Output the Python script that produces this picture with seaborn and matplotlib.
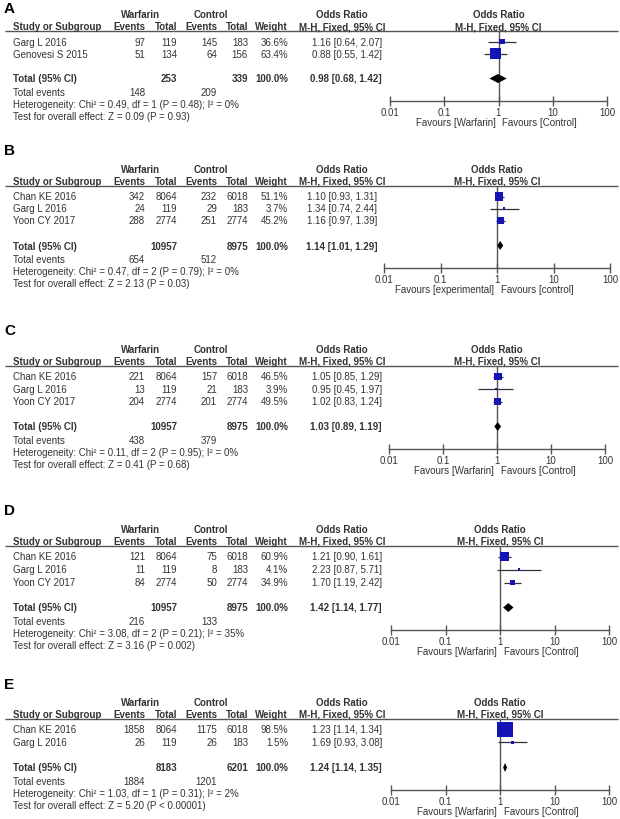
import matplotlib
matplotlib.use("Agg")
import matplotlib.pyplot as plt
import seaborn as sns
import numpy as np
import pandas as pd

# ---------------- data ----------------
studies_A = ["Garg L 2016", "Genovesi S 2015"]
w_events_A = [97, 51]
w_total_A = [119, 134]
c_events_A = [145, 64]
c_total_A = [183, 156]
weight_A = [36.6, 63.4]
or_A = [1.16, 0.88]
lo_A = [0.64, 0.55]
hi_A = [2.07, 1.42]
pooled_A = [0.98, 0.68, 1.42]
totals_A = [253, 339]
tot_events_A = [148, 209]
het_A = "Heterogeneity: Chi² = 0.49, df = 1 (P = 0.48); I² = 0%"
test_A = "Test for overall effect: Z = 0.09 (P = 0.93)"
fav_A = ["Favours [Warfarin]", "Favours [Control]"]

studies_B = ["Chan KE 2016", "Garg L 2016", "Yoon CY 2017"]
w_events_B = [342, 24, 288]
w_total_B = [8064, 119, 2774]
c_events_B = [232, 29, 251]
c_total_B = [6018, 183, 2774]
weight_B = [51.1, 3.7, 45.2]
or_B = [1.10, 1.34, 1.16]
lo_B = [0.93, 0.74, 0.97]
hi_B = [1.31, 2.44, 1.39]
pooled_B = [1.14, 1.01, 1.29]
totals_B = [10957, 8975]
tot_events_B = [654, 512]
het_B = "Heterogeneity: Chi² = 0.47, df = 2 (P = 0.79); I² = 0%"
test_B = "Test for overall effect: Z = 2.13 (P = 0.03)"
fav_B = ["Favours [experimental]", "Favours [control]"]

studies_C = ["Chan KE 2016", "Garg L 2016", "Yoon CY 2017"]
w_events_C = [221, 13, 204]
w_total_C = [8064, 119, 2774]
c_events_C = [157, 21, 201]
c_total_C = [6018, 183, 2774]
weight_C = [46.5, 3.9, 49.5]
or_C = [1.05, 0.95, 1.02]
lo_C = [0.85, 0.45, 0.83]
hi_C = [1.29, 1.97, 1.24]
pooled_C = [1.03, 0.89, 1.19]
totals_C = [10957, 8975]
tot_events_C = [438, 379]
het_C = "Heterogeneity: Chi² = 0.11, df = 2 (P = 0.95); I² = 0%"
test_C = "Test for overall effect: Z = 0.41 (P = 0.68)"
fav_C = ["Favours [Warfarin]", "Favours [Control]"]

studies_D = ["Chan KE 2016", "Garg L 2016", "Yoon CY 2017"]
w_events_D = [121, 11, 84]
w_total_D = [8064, 119, 2774]
c_events_D = [75, 8, 50]
c_total_D = [6018, 183, 2774]
weight_D = [60.9, 4.1, 34.9]
or_D = [1.21, 2.23, 1.70]
lo_D = [0.90, 0.87, 1.19]
hi_D = [1.61, 5.71, 2.42]
pooled_D = [1.42, 1.14, 1.77]
totals_D = [10957, 8975]
tot_events_D = [216, 133]
het_D = "Heterogeneity: Chi² = 3.08, df = 2 (P = 0.21); I² = 35%"
test_D = "Test for overall effect: Z = 3.16 (P = 0.002)"
fav_D = ["Favours [Warfarin]", "Favours [Control]"]

studies_E = ["Chan KE 2016", "Garg L 2016"]
w_events_E = [1858, 26]
w_total_E = [8064, 119]
c_events_E = [1175, 26]
c_total_E = [6018, 183]
weight_E = [98.5, 1.5]
or_E = [1.23, 1.69]
lo_E = [1.14, 0.93]
hi_E = [1.34, 3.08]
pooled_E = [1.24, 1.14, 1.35]
totals_E = [8183, 6201]
tot_events_E = [1884, 1201]
het_E = "Heterogeneity: Chi² = 1.03, df = 1 (P = 0.31); I² = 2%"
test_E = "Test for overall effect: Z = 5.20 (P < 0.00001)"
fav_E = ["Favours [Warfarin]", "Favours [Control]"]

axis_ticks = [0.01, 0.1, 1, 10, 100]
axis_labels = ["0.01", "0.1", "1", "10", "100"]

# ---------------- style ----------------
sns.set_theme(style="white")
plt.rcParams['font.family'] = ['Liberation Sans', 'DejaVu Sans']

W, H = 620, 820
FS = 7.0
TXT = "#333333"
LINE = "#555555"
BLUE = "#1414b4"

fig = plt.figure(figsize=(6.2, 8.2), dpi=100)
ax_t = fig.add_axes([0, 0, 1, 1])
ax_t.set_xlim(0, W)
ax_t.set_ylim(H, 0)
ax_t.axis("off")


def t(x, y, s, ha="left", bold=False, va="center", size=FS, color=TXT):
    ax_t.text(x, y, s, ha=ha, va=va, fontsize=size,
              fontweight="bold" if bold else "normal", color=color)


def pct(v):
    return f"{v:.1f}%"


def ci(o, l, h):
    return f"{o:.2f} [{l:.2f}, {h:.2f}]"


panels = [
    dict(key="A", studies=studies_A, we=w_events_A, wt=w_total_A, ce=c_events_A, ct=c_total_A,
         wgt=weight_A, orv=or_A, lo=lo_A, hi=hi_A, pooled=pooled_A, totals=totals_A,
         tev=tot_events_A, het=het_A, test=test_A, fav=fav_A,
         rule=32, label_y=9, x0=390, x1=607, step=12.0, orx=382),
    dict(key="B", studies=studies_B, we=w_events_B, wt=w_total_B, ce=c_events_B, ct=c_total_B,
         wgt=weight_B, orv=or_B, lo=lo_B, hi=hi_B, pooled=pooled_B, totals=totals_B,
         tev=tot_events_B, het=het_B, test=test_B, fav=fav_B,
         rule=187, label_y=151, x0=384, x1=610, step=12.0, orx=377),
    dict(key="C", studies=studies_C, we=w_events_C, wt=w_total_C, ce=c_events_C, ct=c_total_C,
         wgt=weight_C, orv=or_C, lo=lo_C, hi=hi_C, pooled=pooled_C, totals=totals_C,
         tev=tot_events_C, het=het_C, test=test_C, fav=fav_C,
         rule=367, label_y=331, x0=389, x1=605, step=12.5, orx=382),
    dict(key="D", studies=studies_D, we=w_events_D, wt=w_total_D, ce=c_events_D, ct=c_total_D,
         wgt=weight_D, orv=or_D, lo=lo_D, hi=hi_D, pooled=pooled_D, totals=totals_D,
         tev=tot_events_D, het=het_D, test=test_D, fav=fav_D,
         rule=547, label_y=511, x0=391, x1=609, step=13.0, orx=382),
    dict(key="E", studies=studies_E, we=w_events_E, wt=w_total_E, ce=c_events_E, ct=c_total_E,
         wgt=weight_E, orv=or_E, lo=lo_E, hi=hi_E, pooled=pooled_E, totals=totals_E,
         tev=tot_events_E, het=het_E, test=test_E, fav=fav_E,
         rule=720, label_y=685, x0=391, x1=609, step=13.0, orx=382),
]

X_STUDY = 13
X_WE, X_WT, X_CE, X_CT, X_WGT = 145, 177, 217, 248, 288

for p in panels:
    r = p["rule"]
    n = len(p["studies"])
    row_y = [r + 10.5 + i * p["step"] for i in range(n)]
    total_y = row_y[-1] + 25
    ev_y = total_y + 13.5
    het_y = ev_y + 12
    test_y = het_y + 12
    axis_y = total_y + 22
    xmid = (p["x0"] + p["x1"]) / 2
    or_center = 342

    # panel label
    t(4, p["label_y"], p["key"], bold=True, size=11, color="black")

    # headers
    h1 = r - 17
    hb = r - 2
    t(141, h1, "Warfarin", ha="center", bold=True)
    t(211, h1, "Control", ha="center", bold=True)
    t(or_center, h1, "Odds Ratio", ha="center", bold=True)
    t(xmid, h1, "Odds Ratio", ha="center", bold=True)
    for x, s, ha in [(X_STUDY, "Study or Subgroup", "left"), (X_WE, "Events", "right"),
                     (X_WT, "Total", "right"), (X_CE, "Events", "right"), (X_CT, "Total", "right"),
                     (X_WGT, "Weight", "right"), (or_center, "M-H, Fixed, 95% CI", "center"),
                     (xmid, "M-H, Fixed, 95% CI", "center")]:
        t(x, hb, s, ha=ha, bold=True, va="baseline")
    ax_t.plot([5, 618], [r, r], color=LINE, lw=1.0, solid_capstyle="butt")

    # study rows
    for i in range(n):
        y = row_y[i]
        t(X_STUDY, y, p["studies"][i])
        t(X_WE, y, str(p["we"][i]), ha="right")
        t(X_WT, y, str(p["wt"][i]), ha="right")
        t(X_CE, y, str(p["ce"][i]), ha="right")
        t(X_CT, y, str(p["ct"][i]), ha="right")
        t(X_WGT, y, pct(p["wgt"][i]), ha="right")
        t(p["orx"], y, ci(p["orv"][i], p["lo"][i], p["hi"][i]), ha="right")

    # total rows
    po, pl, ph = p["pooled"]
    t(X_STUDY, total_y, "Total (95% CI)", bold=True)
    t(X_WT, total_y, str(p["totals"][0]), ha="right", bold=True)
    t(X_CT, total_y, str(p["totals"][1]), ha="right", bold=True)
    t(X_WGT, total_y, "100.0%", ha="right", bold=True)
    t(p["orx"], total_y, ci(po, pl, ph), ha="right", bold=True)
    t(X_STUDY, ev_y, "Total events")
    t(X_WE, ev_y, str(p["tev"][0]), ha="right")
    t(X_CE, ev_y, str(p["tev"][1]), ha="right")
    t(X_STUDY, het_y, p["het"])
    t(X_STUDY, test_y, p["test"])

    # forest axes
    ax = fig.add_axes([p["x0"] / W, 1 - axis_y / H, (p["x1"] - p["x0"]) / W, (axis_y - r) / H])
    ax.set_xscale("log")
    ax.set_xlim(0.01, 100)
    ax.set_ylim(axis_y, r)
    ax.patch.set_alpha(0)
    for sp in ["top", "left", "right"]:
        ax.spines[sp].set_visible(False)
    ax.spines["bottom"].set_color(LINE)
    ax.spines["bottom"].set_linewidth(1.0)
    ax.axvline(1, color=LINE, lw=1.0, zorder=1)

    df = pd.DataFrame({"or": p["orv"], "lo": p["lo"], "hi": p["hi"], "y": row_y, "w": p["wgt"]})
    ax.hlines(df["y"], df["lo"], df["hi"], color="#333333", lw=0.9, zorder=2)
    side_px = np.maximum(2.4, 0.16 * df["w"].to_numpy())
    sizes = (side_px * 0.72) ** 2
    sns.scatterplot(data=df, x="or", y="y", marker="s", s=sizes, color=BLUE,
                    edgecolor=BLUE, linewidth=0, ax=ax, legend=False, zorder=3, clip_on=False)
    ax.fill([pl, po, ph, po], [total_y, total_y - 4.5, total_y, total_y + 4.5],
            color="black", lw=0, zorder=3, clip_on=False)

    ax.set_xticks(axis_ticks)
    ax.set_xticklabels(axis_labels)
    ax.minorticks_off()
    ax.set_yticks([])
    ax.set_xlabel("")
    ax.set_ylabel("")
    ax.tick_params(axis="x", direction="inout", length=7, width=1.0, color=LINE,
                   labelsize=FS, labelcolor=TXT, pad=1.5, bottom=True)

    t(xmid - 3, axis_y + 21.5, p["fav"][0], ha="right")
    t(xmid + 4, axis_y + 21.5, p["fav"][1], ha="left")

fig.savefig("out.png", dpi=100, facecolor="white")
